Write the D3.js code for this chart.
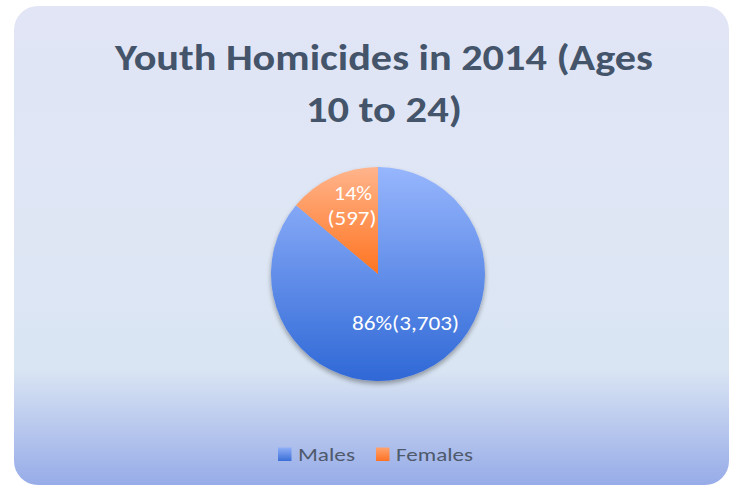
<!DOCTYPE html>
<html><head><meta charset="utf-8">
<script src="https://cdn.jsdelivr.net/npm/d3@7"></script>
<style>body{margin:0;background:#fff}svg{display:block}</style>
</head><body>
<script>
const categories = ["Males", "Females"];
const values = [3703, 597];
const percents = ["86%", "14%"];
const titleLines = ["Youth Homicides in 2014 (Ages", "10 to 24)"];

const W = 735, H = 486;
const svg = d3.select("body").append("svg").attr("width", W).attr("height", H);
const defs = svg.append("defs");

const bg = defs.append("linearGradient").attr("id","bg").attr("x1",0).attr("y1",0).attr("x2",0).attr("y2",1);
[[0,"#E1E5F6"],[0.5,"#DEE6F4"],[0.76,"#D9E5F3"],[1,"#97ABE8"]].forEach(s=>bg.append("stop").attr("offset",s[0]).attr("stop-color",s[1]));

const gM = defs.append("linearGradient").attr("id","gM").attr("gradientUnits","userSpaceOnUse")
  .attr("x1",0).attr("y1",-107).attr("x2",0).attr("y2",107);
gM.append("stop").attr("offset",0).attr("stop-color","#97B6FD");
gM.append("stop").attr("offset",1).attr("stop-color","#2F68D6");
const gF = defs.append("linearGradient").attr("id","gF").attr("gradientUnits","userSpaceOnUse")
  .attr("x1",0).attr("y1",-107).attr("x2",0).attr("y2",0);
gF.append("stop").attr("offset",0).attr("stop-color","#FFB48C");
gF.append("stop").attr("offset",1).attr("stop-color","#FF7420");

const lM = defs.append("linearGradient").attr("id","lM").attr("x1",0).attr("y1",0).attr("x2",0).attr("y2",1);
lM.append("stop").attr("offset",0).attr("stop-color","#8FAEF7");
lM.append("stop").attr("offset",1).attr("stop-color","#3A6FD8");
const lF = defs.append("linearGradient").attr("id","lF").attr("x1",0).attr("y1",0).attr("x2",0).attr("y2",1);
lF.append("stop").attr("offset",0).attr("stop-color","#FFA36E");
lF.append("stop").attr("offset",1).attr("stop-color","#FF7224");

const sh = defs.append("filter").attr("id","sh").attr("x","-20%").attr("y","-20%").attr("width","140%").attr("height","140%");
sh.append("feGaussianBlur").attr("in","SourceAlpha").attr("stdDeviation",2.5);
sh.append("feOffset").attr("dx",0).attr("dy",3).attr("result","o");
sh.append("feComponentTransfer").append("feFuncA").attr("type","linear").attr("slope",0.35);
const m = sh.append("feMerge"); m.append("feMergeNode"); m.append("feMergeNode").attr("in","SourceGraphic");

svg.append("rect").attr("x",14).attr("y",6).attr("width",715).attr("height",479).attr("rx",24)
  .attr("fill","url(#bg)");

const font = "Carlito, Calibri, Lato, 'Open Sans', sans-serif";

// place text at (x,y) and stretch horizontally to a target width
function place(sel, x, y, w) {
  const nw = sel.node().getComputedTextLength();
  const k = w / nw;
  sel.attr("transform", `translate(${x},${y}) scale(${k},1)`);
}

const titleG = svg.append("g").attr("font-family",font).attr("font-weight","bold").attr("font-size",37)
  .attr("fill","#44546A").attr("text-anchor","middle");
const titleW = [538, 156];
titleLines.forEach((t,i)=>{
  const s = titleG.append("text").text(t);
  place(s, 384, 69.5+i*52, titleW[i]);
});

const cx = 378, cy = 274, r = 107;
const pie = d3.pie().sort(null).value(d=>d)(values);
const arc = d3.arc().innerRadius(0).outerRadius(r);
const g = svg.append("g").attr("transform",`translate(${cx},${cy})`);
g.append("g").attr("filter","url(#sh)").selectAll("path").data(pie).join("path")
  .attr("d",arc).attr("fill",(d,i)=>i===0?"url(#gM)":"url(#gF)");

// labels
const fmt = d3.format(",");
const lbl = g.append("g").attr("font-family",font).attr("font-size",21).attr("fill","#fff").attr("text-anchor","middle");
place(lbl.append("text").text(percents[0]+"("+fmt(values[0])+")"), 27.5, 55.5, 107);
place(lbl.append("text").text(percents[1]), -25, -74, 38);
place(lbl.append("text").text("("+fmt(values[1])+")"), -26, -49.5, 49);

// legend
const legX = [278, 376];
const legW = [57, 77];
const legG = svg.append("g");
categories.forEach((c,i)=>{
  legG.append("rect").attr("x",legX[i]).attr("y",447.5).attr("width",13.5).attr("height",13.5)
    .attr("fill",i===0?"url(#lM)":"url(#lF)");
  const s = legG.append("text").attr("font-family",font).attr("font-size",18.5).attr("fill","#4E596B").text(c);
  place(s, legX[i]+20, 461, legW[i]);
});
</script>
</body></html>
